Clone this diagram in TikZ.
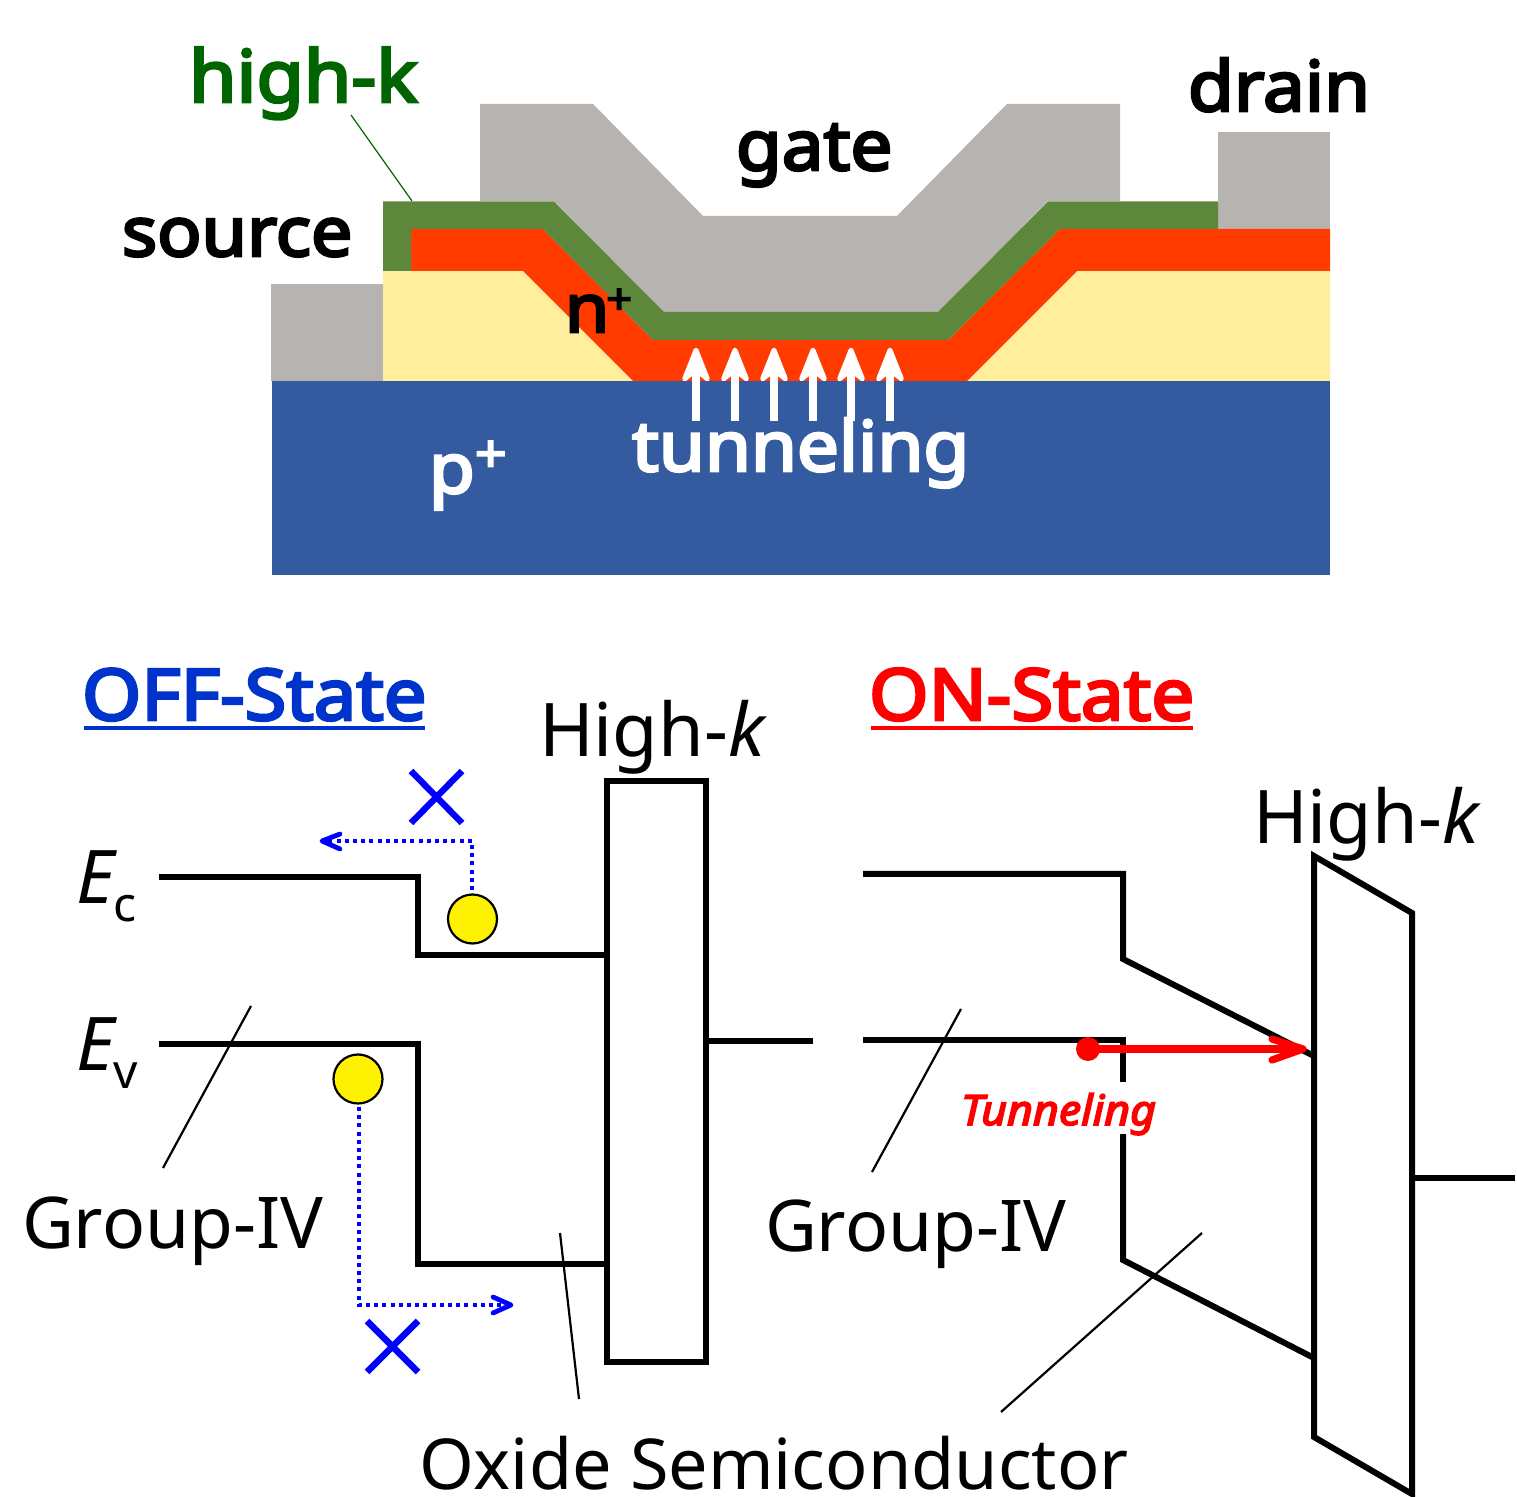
\documentclass[tikz,border=0pt]{standalone}
\usepackage{fontspec}
\setmainfont{Noto Sans}
\newfontfamily\heavy{Noto Sans}[FakeBold=4,FakeStretch=1.07]
\usetikzlibrary{arrows.meta}
\definecolor{gategray}{HTML}{B7B3B1}
\definecolor{oxgreen}{HTML}{5D883B}
\definecolor{nred}{HTML}{FF3B00}
\definecolor{soilyellow}{HTML}{FFEE9E}
\definecolor{subblue}{HTML}{345B9F}
\definecolor{hkgreen}{HTML}{006400}
\definecolor{offblue}{HTML}{0033CC}
\newcommand{\fs}[1]{\fontsize{#1}{#1}\selectfont}
\tikzset{
  x=0.5pt,y=-0.5pt,
  lbl/.style={anchor=base west,inner sep=0pt,outer sep=0pt},
  big/.style={lbl,font=\fs{34.8}\heavy},
  thin/.style={lbl,font=\fs{35.7}},
  band/.style={line width=3pt,black,line join=miter},
  leader/.style={line width=1.1pt,black},
  cross/.style={blue,line width=3.2pt},
  escape/.style={blue,line width=2.4pt,dash pattern=on 2pt off 2.1pt},
  head/.style={blue,line width=2.4pt,line cap=round,line join=round},
  elec/.style={draw=black,line width=1.1pt,fill=yellow,circle,minimum size=24.5pt,inner sep=0pt},
}
\begin{document}
\begin{tikzpicture}
\useasboundingbox (0,0) rectangle (1517,1497);
% device
\fill[subblue] (272,381) rectangle (1330,575);
\fill[gategray] (271,284) rectangle (383,381);
\fill[gategray] (1218,132) rectangle (1330,229);
\fill[gategray] (480,104) -- (593,104) -- (703,216) -- (897,216) -- (1007,104) -- (1120,104) -- (1120,201) -- (1048,201) -- (938,312) -- (664,312) -- (554,201) -- (480,201) -- cycle;
\fill[soilyellow] (383,271) -- (523,271) -- (633,381) -- (383,381) -- cycle;
\fill[soilyellow] (1077,271) -- (1330,271) -- (1330,381) -- (967,381) -- cycle;
\fill[nred] (411,229) -- (543,229) -- (653,340) -- (948,340) -- (1060,229) -- (1330,229) -- (1330,271) -- (1077,271) -- (967,381) -- (633,381) -- (523,271) -- (411,271) -- cycle;
\fill[oxgreen] (383,201.5) -- (554,201.5) -- (664,312) -- (938,312) -- (1048,201.5) -- (1218,201.5) -- (1218,229) -- (1060,229) -- (948,340) -- (653,340) -- (543,229) -- (411,229) -- (411,271) -- (383,271) -- cycle;
\draw[hkgreen,line width=0.6pt] (351,115) -- (412,201);
\foreach \ax in {696,735,774,813,851,890}{
  \fill[white] (\ax-4,368) rectangle (\ax+4,421);
  \filldraw[white,line width=2.4pt,line join=round] (\ax,350) -- (\ax+11.5,379) -- (\ax,370) -- (\ax-11.5,379) -- cycle;
}
\node[big,font=\fs{36}\heavy,text=hkgreen] (hk) at (189,102) {high-k};
\node[big] (drain) at (1188,111) {drain};
\node[big] (gate) at (736,170) {gate};
\node[big,font=\fs{34.3}\heavy] (source) at (122,256) {source};
\node[big,font=\fs{33.5}\heavy] (np) at (565,332) {n\kern-1.5pt\raisebox{0.27em}{\fs{21}+}};
\node[big,text=white] (pp) at (429,493) {p\raisebox{0.3em}{\fs{26}+}};
\node[big,text=white] (tun) at (632,471) {tunneling};
% headings
\node[big,font=\fs{35.5}\heavy,text=offblue] (off) at (82,720) {OFF-State};
\draw[offblue,line width=1.8pt] (84,728) -- (425,728);
\node[big,font=\fs{35.7}\heavy,text=red] (on) at (869,720) {ON-State};
\draw[red,line width=1.8pt] (871,728) -- (1193,728);
% OFF bands
\draw[band] (607,781) rectangle (706,1362);
\draw[band] (159,877) -- (418,877) -- (418,955) -- (607,955);
\draw[band] (159,1043.5) -- (418,1043.5) -- (418,1264) -- (607,1264);
\draw[band] (706,1041) -- (813,1041);
% ON bands
\draw[band] (1314,856) -- (1412,913) -- (1412,1494) -- (1314,1437) -- cycle;
\draw[band] (863,874) -- (1123,874) -- (1123,959) -- (1314,1056);
\draw[band] (863,1040) -- (1123,1040) -- (1123,1082);
\draw[band] (1123,1134) -- (1123,1260) -- (1314,1358);
\draw[band] (1412,1178) -- (1515,1178);
% leaders
\draw[leader] (251,1006) -- (163,1168);
\draw[leader] (560,1233) -- (579,1399);
\draw[leader] (961,1009) -- (872,1172);
\draw[leader] (1202,1233) -- (1001,1412);
% electrons and escapes
\node[elec] (e1) at (472.5,919) {};
\node[elec] (e2) at (358,1079) {};
\coordinate (s1) at (472,890); \coordinate (c1) at (472,841); \coordinate (t1) at (326,841);
\coordinate (s2) at (359,1107); \coordinate (c2) at (359,1305); \coordinate (t2) at (507,1305);
\draw[escape] (s1) -- (c1) -- (t1);
\draw[escape] (s2) -- (c2) -- (t2);
\draw[head] (340,834) -- (322,841) -- (340,849);
\draw[head] (493,1297) -- (511,1305) -- (493,1313);
\draw[cross] (411,771) -- (462,823) (462,771) -- (411,823);
\draw[cross] (367,1321) -- (418,1372) (418,1321) -- (367,1372);
% tunneling
\fill[red] (1088,1049) circle (12);
\draw[red,line width=3.6pt] (1088,1049) -- (1303,1049);
\draw[red,line width=3.6pt,line cap=round,line join=round] (1272,1039) -- (1303,1049) -- (1272,1060);
\node[lbl,font=\fs{20.9}\heavy\itshape,text=red] (tl) at (961,1125) {Tunneling};
% labels
\node[thin,font=\fs{37}] (hk1) at (539,757) {High-\textit{k}};
\node[thin,font=\fs{37}] (hk2) at (1253,844) {High-\textit{k}};
\node[thin,font=\fs{37}] (ec) at (76,904) {\textit{E}\kern-1.5pt\raisebox{-0.24em}{\fs{24}c}};
\node[thin,font=\fs{37}] (ev) at (76,1071) {\textit{E}\kern-1.5pt\raisebox{-0.24em}{\fs{24}v}};
\node[thin] (g1) at (22,1248) {Group-IV};
\node[thin] (g2) at (765,1251) {Group-IV};
\node[thin,font=\fs{35.1}] (ox) at (419,1489) {Oxide Semiconductor};
\end{tikzpicture}
\end{document}
